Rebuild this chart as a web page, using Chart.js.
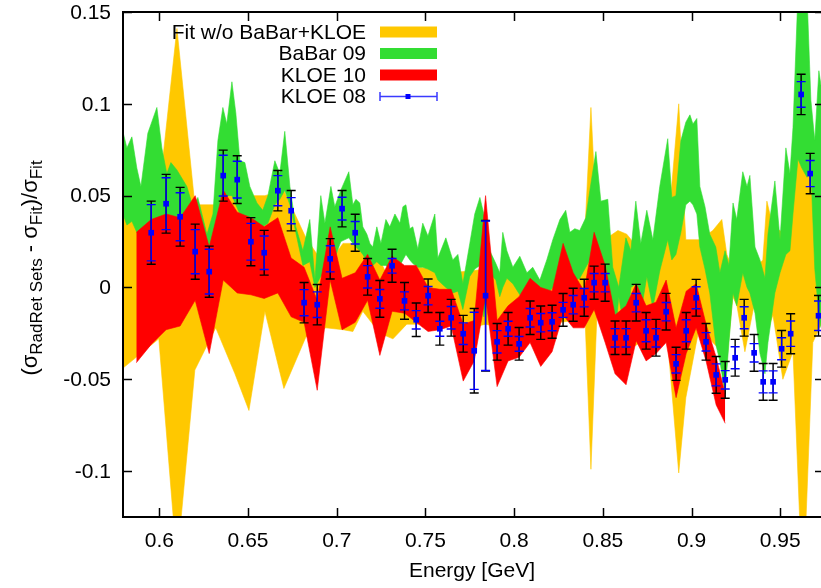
<!DOCTYPE html>
<html lang="en">
<head>
<meta charset="UTF-8">
<title>Cross-section ratio vs energy</title>
<script src="https://cdn.jsdelivr.net/npm/chart.js@4.4.1/dist/chart.umd.min.js"></script>
<style>
  html, body { margin: 0; padding: 0; background: #fff; }
  #wrap { width: 821px; height: 588px; }
</style>
</head>
<body>
<div id="wrap"><canvas id="c" width="821" height="588"></canvas></div>
<script>
// ---- data ----
const seriesNames = ['Fit w/o BaBar+KLOE', 'BaBar 09', 'KLOE 10', 'KLOE 08'];
const xTicks = [0.6, 0.65, 0.7, 0.75, 0.8, 0.85, 0.9, 0.95];
const yTicks = [-0.1, -0.05, 0, 0.05, 0.1, 0.15];

// fit without BaBar+KLOE band
const fitE  = [0.5794, 0.5997, 0.6099, 0.6200, 0.6318, 0.6426, 0.6505, 0.6595, 0.6702, 0.6826, 0.6939, 0.7035, 0.7091, 0.7147, 0.7243, 0.7317, 0.7395, 0.7457, 0.7553, 0.7638, 0.7751, 0.7841, 0.7920, 0.7993, 0.8089, 0.8185, 0.8332, 0.8399, 0.8433, 0.8467, 0.8540, 0.8585, 0.8635, 0.8709, 0.8782, 0.8866, 0.8928, 0.8968, 0.9047, 0.9120, 0.9171, 0.9199, 0.9233, 0.9256, 0.9301, 0.9352, 0.9402, 0.9425, 0.9459, 0.9515, 0.9572, 0.9628, 0.9684, 0.9730];
const fitHi = [0.044, 0.050, 0.141, 0.045, 0.045, 0.065, 0.050, 0.050, 0.053, 0.027, 0.011, 0.024, 0.024, 0.020, 0.015, 0.000, 0.002, 0.011, 0.010, 0.008, 0.009, 0.010, 0.006, 0.008, 0.004, 0.002, 0.008, 0.030, 0.098, 0.030, 0.028, 0.031, 0.029, 0.020, 0.011, 0.030, 0.100, 0.026, 0.026, 0.031, 0.037, 0.018, 0.010, 0.008, 0.015, 0.010, 0.015, 0.047, 0.033, 0.030, 0.073, 0.141, 0.055, 0.022];
const fitLo = [-0.044, -0.028, -0.150, -0.045, -0.022, -0.047, -0.067, -0.013, -0.055, -0.027, -0.022, -0.023, -0.024, -0.013, -0.025, -0.028, -0.020, -0.020, -0.018, -0.020, -0.022, -0.020, -0.022, -0.020, -0.020, -0.020, -0.018, -0.015, -0.099, -0.014, -0.020, -0.030, -0.035, -0.030, -0.025, -0.030, -0.101, -0.060, -0.020, -0.030, -0.035, -0.040, -0.005, -0.010, -0.035, -0.010, -0.020, -0.025, -0.015, -0.050, -0.035, -0.170, -0.030, -0.020];

// BaBar 09 band
const babarE  = [0.5794, 0.5817, 0.5845, 0.5873, 0.5896, 0.5935, 0.5986, 0.6014, 0.6042, 0.6065, 0.6099, 0.6155, 0.6189, 0.6217, 0.6245, 0.6268, 0.6302, 0.6330, 0.6358, 0.6380, 0.6409, 0.6431, 0.6454, 0.6482, 0.6510, 0.6550, 0.6583, 0.6612, 0.6651, 0.6679, 0.6707, 0.6736, 0.6769, 0.6809, 0.6848, 0.6877, 0.6910, 0.6933, 0.6967, 0.6989, 0.7023, 0.7068, 0.7091, 0.7108, 0.7130, 0.7147, 0.7170, 0.7187, 0.7203, 0.7226, 0.7249, 0.7277, 0.7299, 0.7328, 0.7356, 0.7373, 0.7390, 0.7412, 0.7429, 0.7457, 0.7485, 0.7514, 0.7553, 0.7570, 0.7615, 0.7654, 0.7683, 0.7711, 0.7750, 0.7778, 0.7807, 0.7829, 0.7863, 0.7897, 0.7919, 0.7936, 0.7959, 0.7993, 0.8032, 0.8072, 0.8105, 0.8145, 0.8184, 0.8218, 0.8258, 0.8291, 0.8314, 0.8342, 0.8370, 0.8404, 0.8427, 0.8461, 0.8489, 0.8528, 0.8556, 0.8590, 0.8630, 0.8658, 0.8686, 0.8714, 0.8748, 0.8782, 0.8821, 0.8866, 0.8889, 0.8912, 0.8940, 0.8968, 0.8991, 0.9008, 0.9030, 0.9047, 0.9076, 0.9103, 0.9137, 0.9160, 0.9189, 0.9211, 0.9234, 0.9255, 0.9289, 0.9313, 0.9329, 0.9358, 0.9386, 0.9414, 0.9431, 0.9470, 0.9499, 0.9532, 0.9555, 0.9572, 0.9600, 0.9622, 0.9651, 0.9673, 0.9695, 0.9718, 0.9730];
const babarHi = [0.085, 0.076, 0.082, 0.065, 0.055, 0.084, 0.098, 0.076, 0.062, 0.068, 0.064, 0.055, 0.044, 0.049, 0.038, 0.029, 0.040, 0.080, 0.098, 0.089, 0.112, 0.095, 0.069, 0.068, 0.055, 0.046, 0.042, 0.050, 0.069, 0.062, 0.085, 0.055, 0.033, 0.020, 0.037, 0.004, 0.050, 0.035, 0.055, 0.044, 0.053, 0.063, 0.045, 0.048, 0.046, 0.033, 0.029, 0.024, 0.022, 0.033, 0.024, 0.037, 0.033, 0.040, 0.035, 0.044, 0.045, 0.032, 0.033, 0.021, 0.035, 0.028, 0.040, 0.016, 0.027, 0.015, 0.018, 0.002, 0.024, 0.040, 0.049, 0.040, 0.020, 0.013, 0.008, 0.030, 0.020, 0.011, 0.017, 0.008, 0.011, 0.004, 0.015, 0.026, 0.037, 0.042, 0.030, 0.032, 0.031, 0.038, 0.053, 0.074, 0.047, 0.048, 0.011, 0.000, 0.027, 0.020, 0.047, 0.024, 0.042, 0.026, 0.055, 0.081, 0.049, 0.050, 0.080, 0.090, 0.094, 0.089, 0.092, 0.055, 0.044, 0.029, 0.022, 0.008, 0.020, 0.012, 0.046, 0.037, 0.063, 0.055, 0.061, 0.022, 0.015, 0.005, 0.029, 0.058, 0.026, 0.076, 0.062, 0.087, 0.160, 0.150, 0.160, 0.102, 0.080, 0.118, 0.110];
const babarLo = [0.040, 0.034, 0.036, 0.030, 0.028, 0.030, 0.038, 0.035, 0.035, 0.036, 0.035, 0.035, 0.030, 0.030, 0.022, 0.018, 0.022, 0.040, 0.050, 0.050, 0.050, 0.045, 0.040, 0.038, 0.035, 0.032, 0.033, 0.035, 0.045, 0.048, 0.053, 0.045, 0.030, 0.012, 0.014, 0.000, 0.006, 0.008, 0.012, 0.016, 0.025, 0.027, 0.024, 0.022, 0.020, 0.018, 0.014, 0.012, 0.012, 0.014, 0.012, 0.012, 0.010, 0.010, 0.012, 0.015, 0.018, 0.015, 0.013, 0.011, 0.011, 0.010, 0.008, 0.004, 0.000, -0.003, -0.002, -0.012, 0.006, 0.010, 0.012, -0.016, 0.008, 0.004, -0.005, 0.000, 0.005, 0.002, -0.004, -0.003, 0.002, -0.005, -0.004, 0.000, -0.003, 0.002, 0.000, 0.004, 0.005, 0.011, 0.015, 0.015, -0.002, -0.010, -0.041, -0.005, -0.029, 0.000, 0.002, -0.014, 0.006, -0.011, 0.009, 0.026, 0.015, 0.018, 0.030, 0.045, 0.047, 0.045, 0.040, 0.022, 0.010, -0.003, -0.031, -0.040, -0.058, -0.030, -0.003, -0.010, 0.008, 0.000, -0.003, -0.014, -0.036, -0.047, -0.030, -0.003, 0.008, 0.018, 0.020, 0.040, 0.070, 0.065, 0.060, 0.064, 0.010, -0.015, -0.022];

// KLOE 10 band
const kloe10E  = [0.5870, 0.5954, 0.6038, 0.6117, 0.6202, 0.6281, 0.6360, 0.6439, 0.6516, 0.6591, 0.6668, 0.6743, 0.6816, 0.6890, 0.6963, 0.7030, 0.7104, 0.7174, 0.7243, 0.7312, 0.7382, 0.7448, 0.7515, 0.7581, 0.7645, 0.7713, 0.7775, 0.7839, 0.7904, 0.7966, 0.8028, 0.8090, 0.8150, 0.8214, 0.8276, 0.8333, 0.8395, 0.8451, 0.8513, 0.8569, 0.8631, 0.8688, 0.8744, 0.8800, 0.8857, 0.8913, 0.8970, 0.9026, 0.9082, 0.9139, 0.9190];
const kloe10Hi = [0.030, 0.037, 0.040, 0.038, 0.050, 0.022, 0.053, 0.041, 0.038, 0.033, 0.038, 0.016, 0.011, -0.007, 0.033, 0.005, 0.008, 0.018, 0.004, 0.017, 0.012, 0.012, 0.000, -0.001, -0.001, -0.020, -0.018, 0.050, -0.018, -0.010, -0.005, 0.005, 0.000, -0.002, 0.024, 0.008, -0.002, 0.030, 0.012, -0.015, -0.010, 0.002, -0.010, -0.008, 0.004, -0.022, -0.002, 0.002, -0.020, -0.038, -0.058];
const kloe10Lo = [-0.041, -0.031, -0.023, -0.021, -0.007, -0.036, 0.004, -0.003, -0.004, -0.006, -0.003, -0.016, -0.019, -0.056, 0.004, -0.023, -0.019, -0.007, -0.037, -0.013, -0.014, -0.019, -0.024, -0.023, -0.021, -0.051, -0.040, -0.005, -0.054, -0.040, -0.038, -0.030, -0.043, -0.035, -0.015, -0.022, -0.022, -0.012, -0.030, -0.047, -0.053, -0.029, -0.040, -0.036, -0.030, -0.060, -0.036, -0.022, -0.040, -0.064, -0.074];

// KLOE 08 points: value, statistical error (blue), total error (black)
const kloe08E    = [0.5954, 0.6038, 0.6117, 0.6202, 0.6281, 0.6360, 0.6439, 0.6516, 0.6591, 0.6668, 0.6743, 0.6816, 0.6890, 0.6963, 0.7030, 0.7104, 0.7174, 0.7243, 0.7312, 0.7382, 0.7448, 0.7515, 0.7581, 0.7645, 0.7713, 0.7775, 0.7839, 0.7904, 0.7966, 0.8028, 0.8090, 0.8150, 0.8214, 0.8276, 0.8333, 0.8395, 0.8451, 0.8513, 0.8569, 0.8631, 0.8688, 0.8744, 0.8800, 0.8857, 0.8913, 0.8970, 0.9026, 0.9082, 0.9139, 0.9190, 0.9246, 0.9297, 0.9353, 0.9404, 0.9460, 0.9508, 0.9559, 0.9618, 0.9669, 0.9716];
const kloe08Val  = [0.0298, 0.0456, 0.0385, 0.0195, 0.0086, 0.0609, 0.0587, 0.0249, 0.0189, 0.0527, 0.0418, -0.0083, -0.0094, 0.0156, 0.0429, 0.0298, 0.0058, -0.0062, 0.0118, -0.0073, -0.0176, -0.0045, -0.0225, -0.0165, -0.0252, -0.0345, -0.0045, -0.0296, -0.0225, -0.0307, -0.0165, -0.0192, -0.0187, -0.0122, -0.0094, -0.0056, 0.0026, 0.0026, -0.0274, -0.0274, -0.0083, -0.0236, -0.0274, -0.0132, -0.0416, -0.0236, -0.0056, -0.0296, -0.0476, -0.0503, -0.0383, -0.0165, -0.0356, -0.0514, -0.0514, -0.0334, -0.0252, 0.1051, 0.0620, -0.0154];
const kloe08Stat = [0.0153, 0.0141, 0.0131, 0.0120, 0.0122, 0.0111, 0.0100, 0.0100, 0.0091, 0.0082, 0.0071, 0.0071, 0.0070, 0.0071, 0.0062, 0.0061, 0.0061, 0.0051, 0.0040, 0.0049, 0.0050, 0.0050, 0.0041, 0.0061, 0.0059, 0.0210, 0.0407, 0.0061, 0.0041, 0.0040, 0.0050, 0.0050, 0.0049, 0.0041, 0.0050, 0.0050, 0.0050, 0.0050, 0.0050, 0.0050, 0.0050, 0.0060, 0.0050, 0.0050, 0.0050, 0.0060, 0.0060, 0.0050, 0.0060, 0.0050, 0.0060, 0.0060, 0.0050, 0.0060, 0.0060, 0.0060, 0.0069, 0.0070, 0.0071, 0.0080];
const kloe08Tot  = [0.0172, 0.0160, 0.0160, 0.0150, 0.0139, 0.0139, 0.0130, 0.0131, 0.0122, 0.0110, 0.0110, 0.0110, 0.0110, 0.0110, 0.0099, 0.0101, 0.0100, 0.0100, 0.0090, 0.0100, 0.0091, 0.0091, 0.0089, 0.0100, 0.0100, 0.0230, 0.0410, 0.0100, 0.0089, 0.0089, 0.0091, 0.0091, 0.0090, 0.0089, 0.0090, 0.0101, 0.0090, 0.0101, 0.0091, 0.0091, 0.0100, 0.0100, 0.0100, 0.0100, 0.0090, 0.0100, 0.0100, 0.0100, 0.0100, 0.0100, 0.0100, 0.0100, 0.0100, 0.0100, 0.0100, 0.0100, 0.0109, 0.0110, 0.0110, 0.0110];

// ---- styling ----
const FONT = '"Liberation Sans", Arial, Helvetica, sans-serif';
const ORANGE = '#ffc800';
const GREEN = '#33dd33';
const RED = '#ff0000';
const BLUE = '#0000ff';
const CAP = 4.5;

const pts = (xs, ys) => xs.map((x, i) => ({ x: x, y: ys[i] }));
const fmt = v => String(+v.toFixed(2));

function band(xs, lo, hi, color, order) {
  const base = { borderColor: color, borderWidth: 0.6, pointRadius: 0, tension: 0, order: order };
  return [
    Object.assign({ data: pts(xs, lo), fill: false }, base),
    Object.assign({ data: pts(xs, hi), fill: '-1', backgroundColor: color }, base)
  ];
}

const datasets = [
  ...band(fitE, fitLo, fitHi, ORANGE, 3),
  ...band(babarE, babarLo, babarHi, GREEN, 2),
  ...band(kloe10E, kloe10Lo, kloe10Hi, RED, 1),
  {
    type: 'scatter', data: pts(kloe08E, kloe08Val), order: 0,
    pointStyle: 'rect', pointRadius: 4, backgroundColor: BLUE, borderColor: BLUE, borderWidth: 0,
    showLine: false
  }
];
const KLOE08_INDEX = datasets.length - 1;

function errBars(ctx, x, y, errs, color, width) {
  ctx.strokeStyle = color;
  ctx.lineWidth = width;
  kloe08E.forEach((e, i) => {
    const px = x.getPixelForValue(e);
    const top = y.getPixelForValue(kloe08Val[i] + errs[i]);
    const bot = y.getPixelForValue(kloe08Val[i] - errs[i]);
    ctx.beginPath();
    ctx.moveTo(px, top); ctx.lineTo(px, bot);
    ctx.moveTo(px - CAP, top); ctx.lineTo(px + CAP, top);
    ctx.moveTo(px - CAP, bot); ctx.lineTo(px + CAP, bot);
    ctx.stroke();
  });
}

const decor = {
  id: 'decor',
  beforeDatasetDraw(chart, args) {
    if (args.index !== KLOE08_INDEX) return;
    const { ctx, chartArea: a, scales: { x, y } } = chart;
    ctx.save();
    ctx.beginPath();
    ctx.rect(a.left, a.top, a.right - a.left, a.bottom - a.top);
    ctx.clip();
    errBars(ctx, x, y, kloe08Tot, '#000', 1.4);
    errBars(ctx, x, y, kloe08Stat, BLUE, 1.4);
    ctx.restore();
  },
  afterDraw(chart) {
    const { ctx, chartArea: a, scales: { x, y } } = chart;
    ctx.save();
    // frame + inward ticks
    ctx.strokeStyle = '#000';
    ctx.lineWidth = 2;
    ctx.beginPath();
    ctx.moveTo(a.right + 1, a.top); ctx.lineTo(a.left, a.top);
    ctx.lineTo(a.left, a.bottom); ctx.lineTo(a.right + 1, a.bottom);
    ctx.stroke();
    ctx.lineWidth = 1.5;
    ctx.beginPath();
    xTicks.forEach(v => {
      const px = Math.round(x.getPixelForValue(v)) + 0.5;
      ctx.moveTo(px, a.bottom); ctx.lineTo(px, a.bottom - 9);
      ctx.moveTo(px, a.top); ctx.lineTo(px, a.top + 9);
    });
    yTicks.forEach(v => {
      const py = Math.round(y.getPixelForValue(v)) + 0.5;
      ctx.moveTo(a.left, py); ctx.lineTo(a.left + 9, py);
      ctx.moveTo(a.right, py); ctx.lineTo(a.right - 6, py);
    });
    ctx.stroke();

    // tick labels
    ctx.fillStyle = '#000';
    ctx.font = '21px ' + FONT;
    ctx.textBaseline = 'middle';
    ctx.textAlign = 'right';
    yTicks.forEach(v => ctx.fillText(fmt(v), a.left - 12, y.getPixelForValue(v) + 1));
    ctx.textAlign = 'center';
    xTicks.forEach(v => ctx.fillText(fmt(v), x.getPixelForValue(v), a.bottom + 24));

    // legend
    ctx.textAlign = 'right';
    const rowsY = [32, 53.5, 75, 96.5];
    const colors = [ORANGE, GREEN, RED];
    seriesNames.forEach((name, i) => {
      ctx.fillStyle = '#000';
      ctx.fillText(name, 366, rowsY[i] + 1);
      if (i < 3) {
        ctx.fillStyle = colors[i];
        ctx.fillRect(380, rowsY[i] - 5.5, 57, 11);
      }
    });
    const ly = rowsY[3];
    ctx.strokeStyle = '#3a3aff';
    ctx.lineWidth = 1.5;
    ctx.beginPath();
    ctx.moveTo(380, ly); ctx.lineTo(437, ly);
    ctx.moveTo(380, ly - 4.5); ctx.lineTo(380, ly + 4.5);
    ctx.moveTo(437, ly - 4.5); ctx.lineTo(437, ly + 4.5);
    ctx.stroke();
    ctx.fillStyle = BLUE;
    ctx.fillRect(405.5, ly - 2.5, 5, 5);

    // x title
    ctx.fillStyle = '#000';
    ctx.textAlign = 'center';
    ctx.fillText('Energy [GeV]', (a.left + a.right) / 2, 571);

    // y title with subscripts
    const runs = [
      ['(\u03c3', false], ['RadRet Sets', true], [' - \u03c3', false],
      ['Fit', true], [')/\u03c3', false], ['Fit', true]
    ];
    const mainF = '22px ' + FONT, subF = '17px ' + FONT;
    let total = 0;
    runs.forEach(r => { ctx.font = r[1] ? subF : mainF; total += ctx.measureText(r[0]).width; });
    ctx.translate(31, 268);
    ctx.rotate(-Math.PI / 2);
    ctx.textAlign = 'left';
    let cx = -total / 2;
    runs.forEach(r => {
      ctx.font = r[1] ? subF : mainF;
      ctx.fillText(r[0], cx, r[1] ? 6 : 0);
      cx += ctx.measureText(r[0]).width;
    });
    ctx.restore();
  }
};

new Chart(document.getElementById('c'), {
  type: 'line',
  data: { datasets: datasets },
  options: {
    responsive: false,
    animation: false,
    layout: { autoPadding: false, padding: { top: 12, right: 0, left: 0, bottom: 0 } },
    plugins: { legend: { display: false }, tooltip: { enabled: false } },
    scales: {
      x: {
        type: 'linear', min: 0.5795, max: 0.973,
        grid: { display: false }, border: { display: false },
        afterBuildTicks: s => { s.ticks = xTicks.map(v => ({ value: v })); },
        afterFit: s => { s.height = 71; },
        ticks: { display: false }
      },
      y: {
        type: 'linear', min: -0.125, max: 0.15,
        grid: { display: false }, border: { display: false },
        afterBuildTicks: s => { s.ticks = yTicks.map(v => ({ value: v })); },
        afterFit: s => { s.width = 123; },
        ticks: { display: false }
      }
    }
  },
  plugins: [decor]
});
</script>
</body>
</html>
